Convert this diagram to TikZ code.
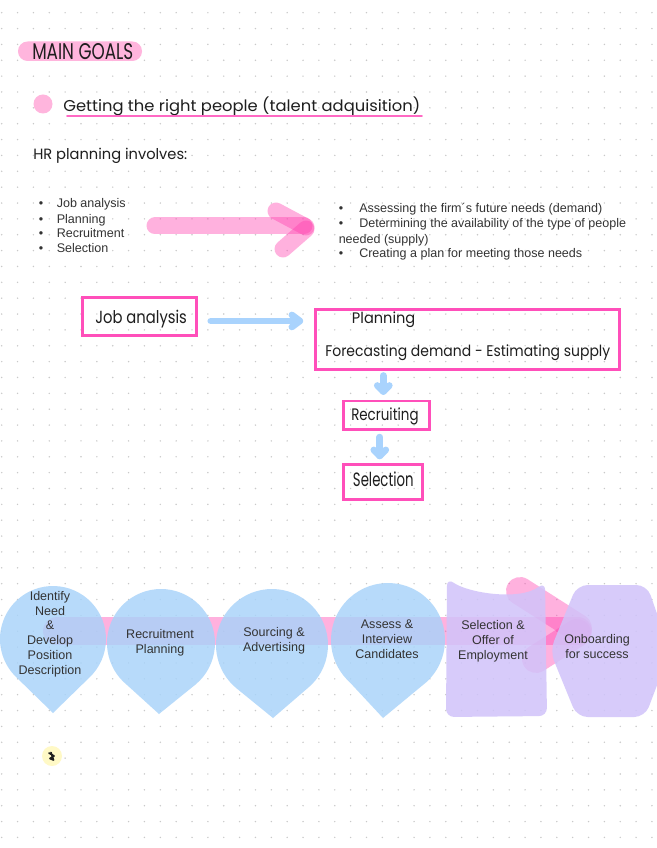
\documentclass[tikz,border=0pt]{standalone}
\usepackage{fontspec}
\setmainfont{Liberation Sans}
\newfontfamily\hand{Poppins}
\usepackage{graphicx}
\usetikzlibrary{calc}
\definecolor{dotc}{HTML}{C9C9C9}
\definecolor{pinkhl}{HTML}{FFB5DD}
\definecolor{hotpink}{HTML}{FF4FBA}
\definecolor{arrpink}{HTML}{FF3DAE}
\definecolor{lblue}{HTML}{A9D3FD}
\definecolor{cblue}{HTML}{A8D3FA}
\definecolor{lav}{HTML}{D0C3FA}
\definecolor{ink}{HTML}{1E1E1E}
\definecolor{gtext}{HTML}{333333}
\definecolor{paleyel}{HTML}{FFF9C6}
\begin{document}
\begin{tikzpicture}[x=0.75pt,y=-0.75pt,
  hwtext/.style={anchor=base west, inner sep=0pt, text=ink, font=\hand},
  artext/.style={inner sep=0pt, text=gtext, font=\fontsize{9.4}{11.2}\selectfont},
  flowbox/.style={draw=hotpink, line width=2.2pt, inner sep=0pt},
  bluearrow/.style={draw=lblue, line width=5pt, line cap=round, line join=round},
  pinkarrow/.style={draw=arrpink, draw opacity=0.4, line cap=round},
  teardrop/.style={fill=cblue, fill opacity=0.82},
  lavshape/.style={fill=lav, fill opacity=0.85}]

\fill[white] (0,0) rectangle (656,848);
\useasboundingbox (0,0) rectangle (656,848);

% dot grid
\foreach \i in {0,...,41}{
  \foreach \j in {0,...,52}{
    \fill[dotc] (1.7+15.86*\i, 12.7+15.86*\j) circle[radius=0.8];
  }
}

% header
\fill[pinkhl, rounded corners=7.2pt] (18,41.5) rectangle (142,61);
\node[hwtext] (maingoals) at (32,60) {\resizebox{75.75pt}{12pt}{MAIN GOALS}};
\fill[pinkhl] (43,104) circle[radius=9.5];
\node[hwtext] (getting) at (63,112) {\resizebox{267.75pt}{11pt}{Getting the right people (talent adquisition)}};
\draw[hotpink!85, line width=1.2pt, line cap=round] (67,115.8) -- (422,115.8);
\node[hwtext] (hrplan) at (33,159.3) {\resizebox{115.5pt}{8.5pt}{HR planning involves:}};

% left list
\foreach \y/\t/\n in {208/Job analysis/la, 223.5/Planning/lb, 237.8/Recruitment/lc, 252.8/Selection/ld}{
  \node[artext, anchor=base] (b\n) at (41,\y) {\textbullet};
  \node[artext, anchor=base west] (\n) at (56.5,\y) {\t};
}

% big pink arrow
\draw[pinkarrow, line width=12.75pt] (155,226) -- (304,226);
\draw[pinkarrow, line width=12.75pt] (276,211) -- (306,227);
\draw[pinkarrow, line width=12.75pt] (283,249) -- (306,229);

% right list
\node[artext, anchor=base] (bra) at (341,212.6) {\textbullet};
\node[artext, anchor=base west] (ra) at (359,212.6) {Assessing the firm´s future needs (demand)};
\node[artext, anchor=base] (brb) at (341,227.2) {\textbullet};
\node[artext, anchor=base west] (rb) at (359,227.2) {Determining the availability of the type of people};
\node[artext, anchor=base west] (rb2) at (338.5,243.5) {needed (supply)};
\node[artext, anchor=base] (brc) at (341,257.3) {\textbullet};
\node[artext, anchor=base west] (rc) at (359,257.3) {Creating a plan for meeting those needs};

% flowchart
\node[flowbox, minimum width=85.2pt, minimum height=28.5pt] (job) at (139.5,316.7) {};
\node[hwtext] (jobt) at (95,323.3) {\resizebox{68.75pt}{10pt}{Job analysis}};
\node[flowbox, minimum width=227.8pt, minimum height=44.8pt] (plan) at (467.2,339.2) {};
\node[hwtext] (plant) at (351.7,323.3) {\resizebox{47.5pt}{8.7pt}{Planning}};
\node[hwtext] (plant2) at (325,356.7) {\resizebox{213.75pt}{8.8pt}{Forecasting demand - Estimating supply}};
\node[flowbox, minimum width=64.2pt, minimum height=21.5pt] (recr) at (386.5,415.3) {};
\node[hwtext] (recrt) at (351,420) {\resizebox{50.5pt}{9.5pt}{Recruiting}};
\node[flowbox, minimum width=59pt, minimum height=26pt] (sel) at (383,481.7) {};
\node[hwtext] (selt) at (352.7,486.7) {\resizebox{45.5pt}{11pt}{Selection}};

% blue arrows
\coordinate (h1) at ($([yshift=-3.2pt]job.east -| plan.west)+(-14,0)$);
\draw[bluearrow] ($([yshift=-3.2pt]job.east)+(13,0)$) -- (h1);
\draw[bluearrow] (h1) ++(-8,-6) -- (h1) -- ++(-8,6);
\coordinate (h2) at ($([xshift=-2.4pt]recr.north)+(0,-8)$);
\draw[bluearrow] ($([xshift=-2.4pt]recr.north |- plan.south)+(0,5)$) -- (h2);
\draw[bluearrow] (h2) ++(-6,-6) -- (h2) -- ++(6,-6);
\coordinate (h3) at ($([xshift=-2.4pt]sel.north)+(0,-7)$);
\draw[bluearrow] ($([xshift=-2.4pt]sel.north |- recr.south)+(0,6)$) -- (h3);
\draw[bluearrow] (h3) ++(-6,-6) -- (h3) -- ++(6,-6);

% bottom process band
\draw[pinkarrow, line width=21pt] (57,631) -- (578,631);
\draw[pinkarrow, line width=21pt] (520,591) -- (578,628);
\draw[pinkarrow, line width=21pt] (536,659) -- (577,633);

% teardrops
\fill[teardrop] (53,713) -- ($(53,639)+(46.55:53)$) arc[start angle=46.55, end angle=-226.55, radius=53] -- cycle;
\fill[teardrop] (159,714) -- ($(161,643)+(50.5:54)$) arc[start angle=50.5, end angle=-230.5, radius=54] -- cycle;
\fill[teardrop] (273,718) -- ($(272,645)+(51.1:56)$) arc[start angle=51.1, end angle=-231.1, radius=56] -- cycle;
\fill[teardrop] (383,718) -- ($(388,640)+(47.7:57)$) arc[start angle=47.7, end angle=-227.7, radius=57] -- cycle;

% lavender shapes
\fill[lavshape, rounded corners=6pt] (447,578) .. controls (468,593) and (520,601) .. (545,582) -- (547,716) -- (446,717) -- cycle;
\fill[lavshape, rounded corners=8pt] (577,585) -- (647,585) -- (670,651) -- (645,717) -- (577,717) -- (550,651) -- cycle;

% shape texts
\node[artext, align=center] (s1) at (50,634.2) {Identify\\Need\\\&\\Develop\\Position\\Description};
\node[artext, align=center] (s2) at (160,642.8) {Recruitment\\Planning};
\node[artext, align=center] (s3) at (274,640.5) {Sourcing \&\\Advertising};
\node[artext, align=center] (s4) at (387,639.2) {Assess \&\\Interview\\Candidates};
\node[artext, align=center] (s5) at (493,641) {Selection \&\\Offer of\\Employment};
\node[artext, align=center] (s6) at (597,646.7) {Onboarding\\for success};

% small mark
\fill[paleyel] (52,756) circle[radius=10];
\draw[ink, line width=1.3pt, line cap=round, line join=round] (49,753) -- (54,756) -- (50,758.5) -- (53.5,760) -- (51,752.5);
\end{tikzpicture}
\end{document}
